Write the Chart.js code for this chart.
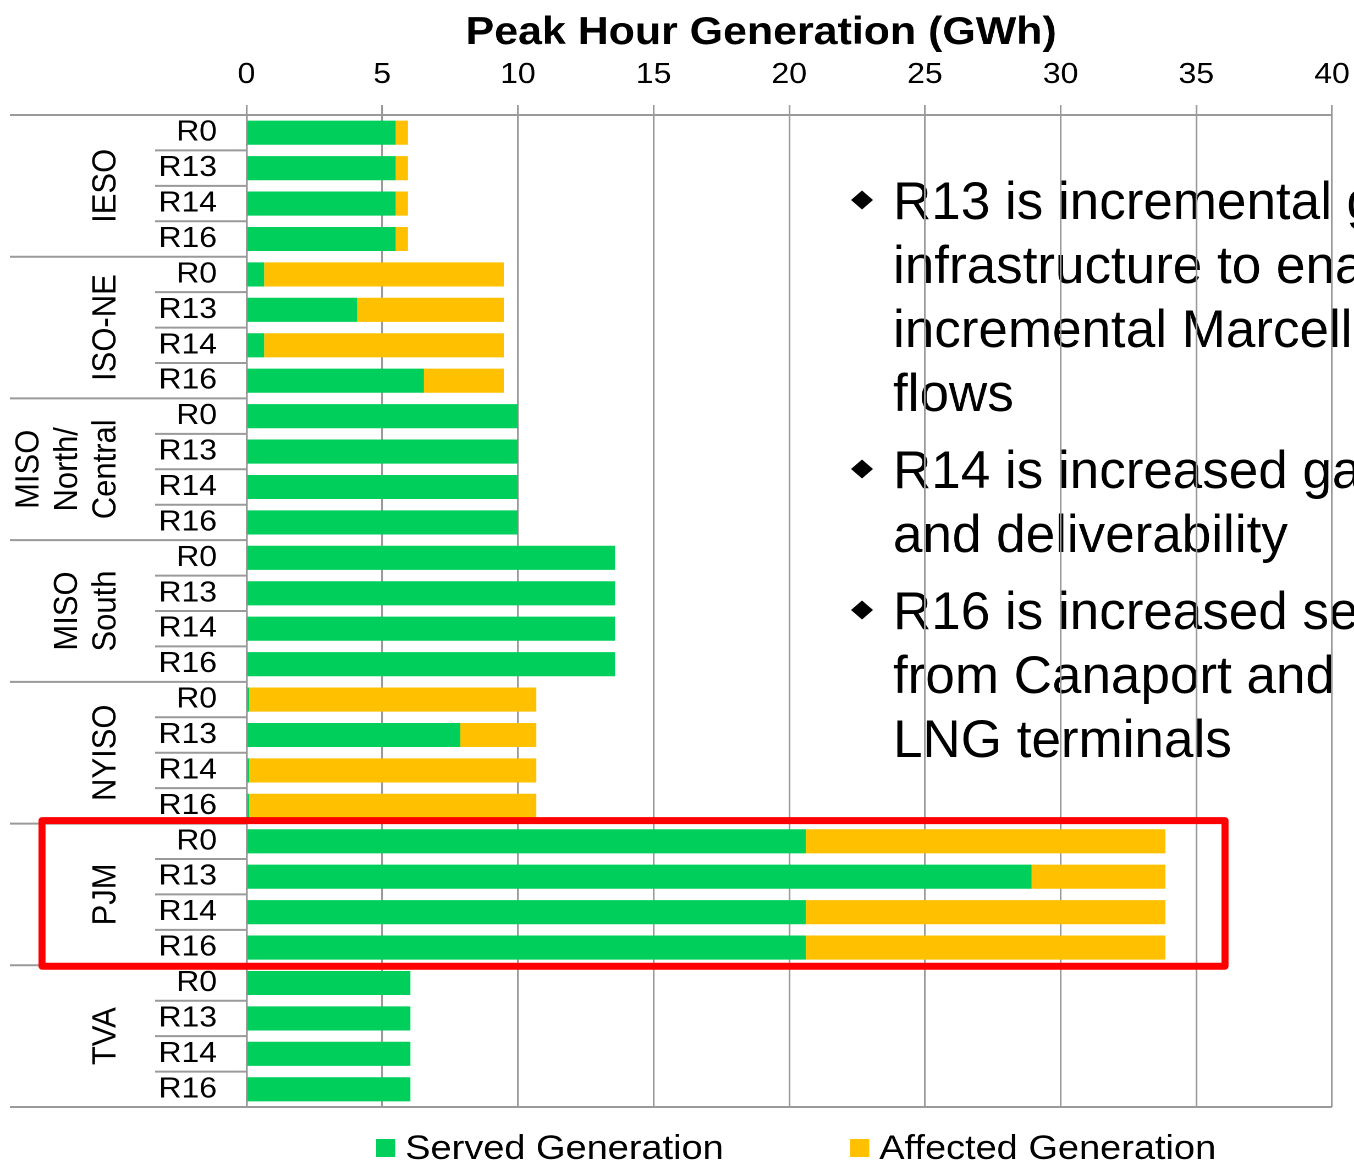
<!DOCTYPE html>
<html>
<head>
<meta charset="utf-8">
<title>Peak Hour Generation</title>
<script src="https://cdn.jsdelivr.net/npm/chart.js@4.4.1/dist/chart.umd.min.js"></script>
<style>
  html, body { margin: 0; padding: 0; background: #fff; overflow: hidden; }
  /* the source picture is stretched sideways, so the chart is drawn narrow and widened */
  #wrap { position: absolute; left: 0; top: 0; width: 1231px; height: 1162px; transform: scaleX(1.09992); transform-origin: 0 0; }
</style>
</head>
<body>
<div id="wrap"><canvas id="genChart"></canvas></div>
<script>
var chartTitle = 'Peak Hour Generation (GWh)';
var groups = [['IESO'], ['ISO-NE'], ['MISO', 'North/', 'Central'], ['MISO', 'South'], ['NYISO'], ['PJM'], ['TVA']];
var cases = ['R0', 'R13', 'R14', 'R16'];
var seriesNames = ['Served Generation', 'Affected Generation'];

// GWh, one value per group x case
var served = [
    5.5, 5.5, 5.5, 5.5,
    0.65, 4.08, 0.65, 6.54,
    10.0, 10.0, 10.0, 10.0,
    13.58, 13.58, 13.58, 13.58,
    0.1, 7.88, 0.1, 0.1,
    20.61, 28.93, 20.61, 20.61,
    6.04, 6.04, 6.04, 6.04
];
var affected = [
    0.45, 0.45, 0.45, 0.45,
    8.83, 5.4, 8.83, 2.94,
    0, 0, 0, 0,
    0, 0, 0, 0,
    10.58, 2.8, 10.58, 10.58,
    13.25, 4.93, 13.25, 13.25,
    0, 0, 0, 0
];
var axisMin = 0, axisMax = 40, axisStep = 5;
var highlightGroup = 'PJM';

var notes = [
    ['R13 is incremental gas', 'infrastructure to enable', 'incremental Marcellus', 'flows'],
    ['R14 is increased gas', 'and deliverability'],
    ['R16 is increased sendout', 'from Canaport and', 'LNG terminals']
];

var S = 1354 / 1231;
var gray = '#9a9a9a';
var fontName = '"Liberation Sans", Arial, sans-serif';

var rowLabels = [];
groups.forEach(function () {
    cases.forEach(function (c) { rowLabels.push(c); });
});

function rowEdge(chart, i) {
    var y = chart.scales.y;
    var h = y.getPixelForValue(1) - y.getPixelForValue(0);
    return y.getPixelForValue(i) - h / 2;
}

var decorations = {
    id: 'decorations',
    beforeDraw: function (chart) {
        // bullet notes sit under the grid lines, drawn unstretched
        var ctx = chart.ctx;
        ctx.save();
        ctx.scale(1 / S, 1);
        ctx.fillStyle = '#000';
        ctx.font = '53px ' + fontName;
        ctx.textBaseline = 'alphabetic';
        ctx.textAlign = 'left';
        var y = 219;
        notes.forEach(function (lines) {
            ctx.beginPath();
            ctx.moveTo(851, y - 19);
            ctx.lineTo(862, y - 28.5);
            ctx.lineTo(873, y - 19);
            ctx.lineTo(862, y - 9.5);
            ctx.closePath();
            ctx.fill();
            lines.forEach(function (t) {
                ctx.fillText(t, 893, y);
                y += 64;
            });
            y += 13;
        });
        ctx.restore();
    },
    afterDraw: function (chart) {
        var ctx = chart.ctx;
        var area = chart.chartArea;
        var yScale = chart.scales.y;
        ctx.save();

        // title
        ctx.fillStyle = '#000';
        ctx.font = 'bold 39px ' + fontName;
        ctx.textAlign = 'center';
        ctx.textBaseline = 'alphabetic';
        ctx.fillText(chartTitle, 692, 44);

        // category axis lines
        ctx.strokeStyle = gray;
        ctx.lineWidth = 2;
        groups.forEach(function (g, gi) {
            for (var k = 0; k < cases.length; k++) {
                var yy = rowEdge(chart, gi * cases.length + k);
                ctx.beginPath();
                ctx.moveTo(k === 0 ? 9 : 141, yy);
                ctx.lineTo(area.left, yy);
                ctx.stroke();
            }
        });
        ctx.beginPath();
        ctx.moveTo(9, area.bottom);
        ctx.lineTo(area.right, area.bottom);
        ctx.stroke();

        // group names, rotated
        ctx.font = '31px ' + fontName;
        ctx.textAlign = 'center';
        ctx.textBaseline = 'middle';
        groups.forEach(function (lines, gi) {
            var first = gi * cases.length;
            var cy = (yScale.getPixelForValue(first) + yScale.getPixelForValue(first + cases.length - 1)) / 2;
            lines.forEach(function (t, li) {
                var cx = 96.4 - (lines.length - 1 - li) * 35;
                ctx.save();
                ctx.translate(cx, cy);
                ctx.rotate(-Math.PI / 2);
                ctx.fillText(t, 0, 0);
                ctx.restore();
            });
        });

        // legend
        var legendX = [342, 773];
        ctx.font = '34.5px ' + fontName;
        ctx.textAlign = 'left';
        ctx.textBaseline = 'alphabetic';
        chart.data.datasets.forEach(function (ds, i) {
            ctx.fillStyle = ds.backgroundColor;
            ctx.fillRect(legendX[i], 1139, 17.3, 18);
            ctx.fillStyle = '#000';
            ctx.fillText(ds.label, legendX[i] + 26.4, 1159);
        });

        // red highlight box round one group
        var gi = groups.findIndex(function (g) { return g.join(' ') === highlightGroup; });
        var top = rowEdge(chart, gi * cases.length) - 3;
        var bottom = rowEdge(chart, (gi + 1) * cases.length) + 1;
        ctx.scale(1 / S, 1);
        ctx.strokeStyle = '#ff0000';
        ctx.lineWidth = 7;
        ctx.lineJoin = 'round';
        ctx.strokeRect(42, top, 1225 - 42, bottom - top);
        ctx.restore();
    }
};

Chart.defaults.font.family = fontName;
Chart.defaults.color = '#000';

new Chart(document.getElementById('genChart'), {
    type: 'bar',
    data: {
        labels: rowLabels,
        datasets: [{
            label: seriesNames[0],
            data: served,
            backgroundColor: '#00d05b',
            barPercentage: 0.68,
            categoryPercentage: 1.0
        },
        {
            label: seriesNames[1],
            data: affected,
            backgroundColor: '#ffc000',
            barPercentage: 0.68,
            categoryPercentage: 1.0
        }]
    },
    options: {
        indexAxis: 'y',
        responsive: true,
        maintainAspectRatio: false,
        animation: false,
        devicePixelRatio: 2,
        events: [],
        layout: { padding: { top: 0, right: 20, bottom: 55, left: 0 } },
        plugins: {
            legend: { display: false },
            title: { display: false },
            tooltip: { enabled: false }
        },
        scales: {
            x: {
                position: 'top',
                stacked: true,
                min: axisMin,
                max: axisMax,
                ticks: { stepSize: axisStep, font: { size: 29 }, color: '#000', padding: 12.6, autoSkip: false, maxRotation: 0 },
                grid: { color: gray, lineWidth: 1.6, tickLength: 10 },
                border: { color: gray, width: 2 },
                afterFit: function (s) {
                    s.height = 115;
                    s.paddingLeft = 0;
                    s.paddingRight = 0;
                }
            },
            y: {
                stacked: true,
                ticks: { font: { size: 29 }, color: '#000', padding: 26.8, autoSkip: false },
                grid: { display: false, drawTicks: false },
                border: { display: true, color: gray, width: 1.7 },
                afterFit: function (s) { s.width = 224.1; }
            }
        }
    },
    plugins: [decorations]
});
</script>
</body>
</html>
